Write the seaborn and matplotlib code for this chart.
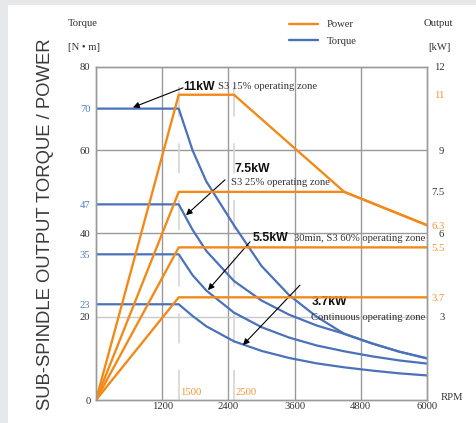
import matplotlib
matplotlib.use("Agg")
import matplotlib.pyplot as plt
from matplotlib.lines import Line2D
from matplotlib.patches import Rectangle
import numpy as np
import pandas as pd
import seaborn as sns

# ---- data -------------------------------------------------------------
rpm_ticks = [1200, 2400, 3600, 4800, 6000]

torque_ticks = [0, 20, 23, 35, 40, 47, 60, 70, 80]
torque_tick_rated = [23, 35, 47, 70]
output_ticks = [3, 3.7, 5.5, 6, 6.3, 7.5, 9, 11, 12]
output_tick_rated = [3.7, 5.5, 6.3, 11]

# output power curves [kW]
power_rpm_11 = [0, 1500, 2500, 4500, 6000]
power_11 = [0, 11, 11, 7.5, 6.3]
power_rpm_75 = [0, 1500, 4500, 6000]
power_75 = [0, 7.5, 7.5, 6.3]
power_rpm_55 = [0, 1500, 6000]
power_55 = [0, 5.5, 5.5]
power_rpm_37 = [0, 1500, 6000]
power_37 = [0, 3.7, 3.7]

# torque curves [N·m]
torque_rpm = [0, 1500, 1750, 2000, 2500, 3000, 3500, 4000, 4500, 5000, 5500, 6000]
torque_11 = [70, 70, 60, 52.5, 42, 32.2, 25.2, 20.0, 15.9, 13.6, 11.6, 10.0]
torque_75 = [47, 47, 40.9, 35.8, 28.6, 23.9, 20.5, 17.9, 15.9, 13.6, 11.6, 10.0]
torque_55 = [35, 35, 30.0, 26.3, 21.0, 17.5, 15.0, 13.1, 11.7, 10.5, 9.5, 8.75]
torque_37 = [23, 23, 20.2, 17.7, 14.1, 11.8, 10.1, 8.8, 7.85, 7.07, 6.4, 5.9]

base_speeds = [1500, 2500]

ORANGE = "#f28a1a"
BLUE = "#4a72ba"
BLUE_TXT = "#4f7cc2"
ORANGE_TXT = "#f29433"
GREY_TXT = "#333333"
SERIF = ["Liberation Serif", "DejaVu Serif"]
SANS = ["Liberation Sans", "DejaVu Sans"]

sns.set_style("white")
plt.rcParams["font.family"] = SERIF

power_df = pd.concat([
    pd.DataFrame({"rpm": power_rpm_11, "kW": power_11, "zone": "11kW"}),
    pd.DataFrame({"rpm": power_rpm_75, "kW": power_75, "zone": "7.5kW"}),
    pd.DataFrame({"rpm": power_rpm_55, "kW": power_55, "zone": "5.5kW"}),
    pd.DataFrame({"rpm": power_rpm_37, "kW": power_37, "zone": "3.7kW"}),
], ignore_index=True)

torque_df = pd.concat([
    pd.DataFrame({"rpm": torque_rpm, "Nm": t, "zone": z})
    for t, z in [(torque_11, "11kW"), (torque_75, "7.5kW"),
                 (torque_55, "5.5kW"), (torque_37, "3.7kW")]
], ignore_index=True)

W, H = 476, 423
fig = plt.figure(figsize=(W / 100, H / 100), dpi=100)
fig.patch.set_facecolor("#e7e8ea")
fig.add_artist(Rectangle((8 / W, 0), 1, 1 - 5 / H, transform=fig.transFigure,
                         facecolor="white", edgecolor="none", zorder=-10))

ax = fig.add_axes([96 / W, 1 - 400 / H, 331 / W, 333 / H])
ax.set_facecolor("none")
ax2 = ax.twinx()

# grid
for v in rpm_ticks[:-1]:
    ax.axvline(v, color="#9a9a9a", lw=1.0, zorder=0)
for h, c in [(20, "#c9c9c9"), (40, "#9a9a9a"), (60, "#9a9a9a")]:
    ax.axhline(h, color=c, lw=1.0, zorder=0)
for v in base_speeds:
    ax.axvline(v, color="#d6d6d6", lw=1.2, ls=(0, (18, 16)), zorder=0)

sns.lineplot(data=torque_df, x="rpm", y="Nm", units="zone", estimator=None,
             sort=False, color=BLUE, lw=1.6, ax=ax, legend=False)
sns.lineplot(data=power_df, x="rpm", y="kW", units="zone", estimator=None,
             sort=False, color=ORANGE, lw=1.7, ax=ax2, legend=False)

ax.set_xlim(0, 6000)
ax.set_ylim(0, 80)
ax2.set_ylim(0, 12)
ax.set_xlabel("")
ax.set_ylabel("")
ax2.set_ylabel("")

for a in (ax, ax2):
    for s in a.spines.values():
        s.set_color("#9a9a9a")
        s.set_linewidth(1.0)

ax.set_xticks(rpm_ticks)
ax.set_xticklabels([str(v) for v in rpm_ticks])
ax.set_yticks(torque_ticks)
ax.set_yticklabels([str(v) for v in torque_ticks])
for lab, v in zip(ax.get_yticklabels(), torque_ticks):
    lab.set_color(BLUE_TXT if v in torque_tick_rated else GREY_TXT)
ax2.set_yticks(output_ticks)
ax2.set_yticklabels([f"{v:g}" for v in output_ticks])
for lab, v in zip(ax2.get_yticklabels(), output_ticks):
    lab.set_color(ORANGE_TXT if v in output_tick_rated else GREY_TXT)
    lab.set_horizontalalignment("right")

ax.tick_params(axis="x", length=0, pad=1.5, labelsize=7.7, colors=GREY_TXT)
ax.tick_params(axis="y", length=0, pad=4, labelsize=7.7)
ax2.tick_params(axis="y", length=0, pad=12.5, labelsize=7.7)
for lab in ax.get_xticklabels():
    lab.set_color(GREY_TXT)

# base speed labels
for v in base_speeds:
    ax.text(v + 30, 1.9, str(v), color=ORANGE_TXT, fontsize=7.7,
            ha="left", va="center", family=SERIF)

# operating zone annotations
arrow = dict(arrowstyle="-|>", color="black", lw=0.8, mutation_scale=9,
             shrinkA=0, shrinkB=0)
ax.annotate("", xy=(670, 70.3), xytext=(1577, 75.0), arrowprops=arrow)
ax.text(1577, 75.3, "11kW", fontsize=8.8, fontweight="bold", family=SANS,
        ha="left", va="center", color="#111111")
ax.text(2215, 75.3, "S3 15% operating zone", fontsize=7.7, family=SERIF,
        ha="left", va="center", color=GREY_TXT)

ax.annotate("", xy=(1631, 44.4), xytext=(2338, 52.9), arrowprops=arrow)
ax.text(2502, 55.4, "7.5kW", fontsize=8.8, fontweight="bold", family=SANS,
        ha="left", va="center", color="#111111")
ax.text(2450, 52.2, "S3 25% operating zone", fontsize=7.7, family=SERIF,
        ha="left", va="center", color=GREY_TXT)

ax.annotate("", xy=(2030, 26.4), xytext=(2792, 38.0), arrowprops=arrow)
ax.text(2846, 38.9, "5.5kW", fontsize=8.8, fontweight="bold", family=SANS,
        ha="left", va="center", color="#111111")
ax.text(3590, 38.9, "30min, S3 60% operating zone", fontsize=7.7, family=SERIF,
        ha="left", va="center", color=GREY_TXT)

ax.annotate("", xy=(2665, 13.2), xytext=(3698, 27.6), arrowprops=arrow)
ax.text(3915, 23.6, "3.7kW", fontsize=8.8, fontweight="bold", family=SANS,
        ha="left", va="center", color="#111111")
ax.text(3897, 19.8, "Continuous operating zone", fontsize=7.7, family=SERIF,
        ha="left", va="center", color=GREY_TXT)

# axis titles
fig.text(68 / W, 1 - 23 / H, "Torque", fontsize=7.7, ha="left", va="center",
         color=GREY_TXT)
fig.text(68 / W, 1 - 47 / H, "[N • m]", fontsize=7.7, ha="left", va="center",
         color=GREY_TXT)
fig.text(438 / W, 1 - 23 / H, "Output", fontsize=7.7, ha="center", va="center",
         color=GREY_TXT)
fig.text(439 / W, 1 - 47 / H, "[kW]", fontsize=7.7, ha="center", va="center",
         color=GREY_TXT)
fig.text(441 / W, 1 - 397 / H, "RPM", fontsize=7.7, ha="left", va="center",
         color=GREY_TXT)
fig.text(46 / W, 1 - 224 / H, "SUB-SPINDLE OUTPUT TORQUE / POWER", rotation=90,
         fontsize=13.3, family=SANS, ha="center", va="center", color="#3a3a3a")

# legend
handles = [Line2D([], [], color=ORANGE, lw=1.7), Line2D([], [], color=BLUE, lw=1.7)]
fig.legend(handles, ["Power", "Torque"], loc="upper left",
           bbox_to_anchor=(289 / W, 1 - 20 / H), frameon=False, fontsize=7.7,
           handlelength=2.7, handletextpad=0.85, labelspacing=0.62,
           borderpad=0, borderaxespad=0, labelcolor=GREY_TXT)

fig.savefig("out.png", dpi=100)
